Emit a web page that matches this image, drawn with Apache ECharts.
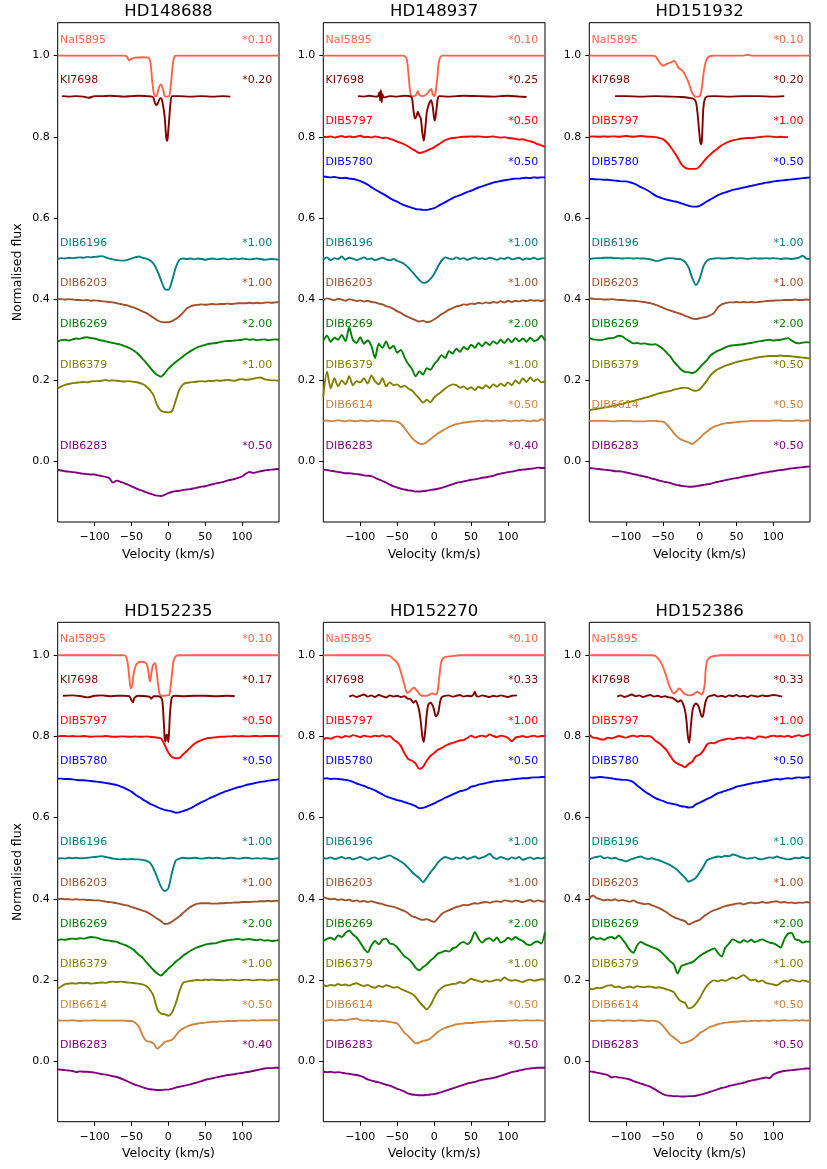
<!DOCTYPE html>
<html>
<head>
<meta charset="utf-8">
<script src="https://cdn.jsdelivr.net/npm/echarts@6/dist/echarts.min.js"></script>
<style>
html, body { margin: 0; padding: 0; background: #fff; }
#chart { width: 827px; height: 1169px; }
</style>
</head>
<body>
<div id="chart"></div>
<script>
const vGrid = [-150,-145,-140,-135,-130,-125,-120,-115,-110,-105,
  -100,-95,-90,-85,-80,-75,-70,-65,-60,-55,
  -50,-45,-40,-35,-30,-25,-20,-15,-10,-5,
  0,5,10,15,20,25,30,35,40,45,
  50,55,60,65,70,75,80,85,90,95,
  100,105,110,115,120,125,130,135,140,145,150];

const stars = ['HD148688', 'HD148937', 'HD151932', 'HD152235', 'HD152270', 'HD152386'];
const lineNames = ['NaI5895', 'KI7698', 'DIB5797', 'DIB5780', 'DIB6196', 'DIB6203', 'DIB6269', 'DIB6379', 'DIB6614', 'DIB6283'];
const lineOffsets = [1.0, 0.9, 0.8, 0.7, 0.5, 0.4, 0.3, 0.2, 0.1, 0.0];
const xTicks = [-100, -50, 0, 50, 100];
const yTicks = [0, 0.2, 0.4, 0.6, 0.8, 1.0];

const scaleLabels = [
  ['*0.10', '*0.20', null, null, '*1.00', '*1.00', '*2.00', '*1.00', null, '*0.50'],
  ['*0.10', '*0.25', '*0.50', '*0.50', '*1.00', '*1.00', '*2.00', '*1.00', '*0.50', '*0.40'],
  ['*0.10', '*0.20', '*1.00', '*0.50', '*1.00', '*1.00', '*2.00', '*0.50', '*0.50', '*0.50'],
  ['*0.10', '*0.17', '*0.50', '*0.50', '*1.00', '*1.00', '*2.00', '*1.00', '*0.50', '*0.40'],
  ['*0.10', '*0.33', '*1.00', '*0.50', '*1.00', '*1.00', '*2.00', '*1.00', '*0.50', '*0.50'],
  ['*0.10', '*0.33', '*1.00', '*0.50', '*1.00', '*1.00', '*2.00', '*1.00', '*0.50', '*0.50']
];

// ---- HD148688 ----
const hd148688_NaI = [[-150,1],[-60,1],[-56,0.997],[-53,0.988],[-50,0.992],[-45,0.995],[-35,0.996],[-28,0.995],[-26,0.993],[-24,0.98],[-22,0.94],[-20,0.91],[-18,0.9],[-16,0.9],[-13,0.92],[-10,0.929],[-7,0.915],[-5,0.9],[-2,0.899],[1,0.9],[3,0.92],[5,0.96],[7,0.99],[9,0.999],[12,1],[150,1]];
const hd148688_KI = [[-144,0.900],[-135,0.899],[-125,0.900],[-115,0.899],[-108,0.896],[-100,0.900],[-90,0.900],[-80,0.901],[-70,0.900],[-60,0.899],[-50,0.900],[-40,0.901],[-30,0.900],[-22,0.899],[-20,0.895],[-18,0.882],[-16,0.878],[-14,0.884],[-11,0.895],[-9,0.893],[-7,0.875],[-5,0.85],[-3,0.80],[-2,0.79],[-1,0.795],[1,0.84],[3,0.885],[5,0.9],[15,0.900],[30,0.899],[45,0.900],[60,0.899],[75,0.900],[84,0.899]];
const hd148688_6196 = [.499,.501,.500,.502,.501,.502,.503,.502,.504,.503, .504,.505,.506,.503,.500,.498,.496,.495,.495,.497, .500,.503,.505,.502,.500,.496,.487,.470,.447,.425, .423,.445,.478,.497,.500,.499,.500,.498,.500,.499, .497,.499,.500,.498,.499,.500,.498,.499,.500,.498, .500,.499,.498,.499,.500,.499,.497,.498,.499,.498, .497];
const hd148688_6203 = [.400,.400,.399,.400,.399,.398,.398,.397,.398,.396, .397,.396,.395,.394,.393,.392,.390,.388,.386,.384, .381,.378,.374,.370,.366,.360,.354,.348,.344,.343, .343,.346,.351,.358,.367,.377,.382,.385,.386,.387, .386,.387,.388,.387,.388,.388,.389,.388,.389,.390, .390,.390,.391,.390,.391,.390,.391,.392,.391,.392, .393];
const hd148688_6269 = [.296,.299,.300,.298,.301,.303,.302,.305,.306,.304, .303,.300,.298,.296,.294,.292,.290,.288,.285,.281, .277,.271,.263,.253,.243,.232,.221,.213,.209,.217, .229,.237,.245,.252,.259,.266,.272,.277,.282,.285, .287,.290,.291,.292,.294,.296,.297,.297,.298,.299, .300,.302,.300,.301,.299,.300,.301,.299,.300,.301, .300];
const hd148688_6379 = [.180,.185,.189,.191,.193,.194,.195,.196,.195,.197, .198,.198,.199,.201,.199,.200,.199,.198,.197,.198, .197,.196,.194,.191,.185,.176,.163,.138,.125,.122, .121,.124,.150,.177,.190,.194,.195,.196,.197,.198, .197,.199,.198,.200,.199,.200,.201,.200,.199,.202, .203,.201,.202,.204,.206,.207,.203,.201,.200,.200, .199];
const hd148688_6283 = [-.021,-.022,-.024,-.025,-.026,-.027,-.029,-.030,-.031,-.032, -.032,-.034,-.036,-.038,-.041,-.052,-.047,-.050,-.053,-.057, -.061,-.065,-.069,-.072,-.076,-.079,-.082,-.084,-.085,-.082, -.078,-.075,-.073,-.072,-.070,-.069,-.068,-.066,-.064,-.062, -.061,-.058,-.056,-.054,-.052,-.050,-.047,-.045,-.043,-.040, -.037,-.030,-.026,-.028,-.026,-.024,-.022,-.021,-.020,-.019, -.018];

// ---- HD148937 ----
const hd148937_NaI = [[-150,1],[-45,1],[-40,0.999],[-37,0.99],[-35,0.96],[-33,0.92],[-31,0.90],[-28,0.90],[-25,0.902],[-22,0.912],[-20,0.903],[-15,0.90],[-10,0.905],[-6,0.915],[-4,0.918],[-2,0.905],[0,0.90],[2,0.91],[4,0.94],[6,0.98],[8,0.995],[11,1],[150,1]];
const hd148937_KI = [[-103,0.900],[-95,0.899],[-88,0.901],[-80,0.899],[-76,0.900],[-74,0.91],[-73,0.89],[-72,0.915],[-71,0.885],[-70,0.905],[-68,0.897],[-60,0.900],[-50,0.899],[-40,0.901],[-33,0.900],[-30,0.895],[-28,0.865],[-26,0.845],[-24,0.85],[-22,0.862],[-20,0.852],[-18,0.845],[-16,0.81],[-14,0.79],[-12,0.82],[-10,0.86],[-8,0.875],[-6,0.885],[-4,0.89],[-2,0.875],[0,0.845],[1,0.84],[3,0.865],[5,0.895],[7,0.900],[20,0.899],[40,0.901],[60,0.900],[80,0.899],[100,0.901],[115,0.899],[125,0.898]];
const hd148937_5797 = [.800,.799,.801,.798,.800,.802,.799,.801,.799,.800, .803,.799,.800,.798,.801,.799,.797,.798,.795,.792, .788,.785,.781,.776,.770,.765,.760,.762,.766,.770, .774,.780,.786,.792,.795,.797,.798,.799,.800,.800, .801,.800,.801,.800,.799,.800,.801,.799,.798,.799, .797,.796,.795,.793,.794,.791,.789,.786,.782,.779, .775];
const hd148937_5780 = [.702,.701,.700,.701,.699,.698,.699,.697,.696,.694, .691,.687,.682,.676,.670,.665,.660,.655,.649,.644, .640,.635,.631,.628,.625,.622,.621,.620,.620,.622, .624,.629,.634,.639,.644,.649,.653,.656,.660,.664, .667,.671,.675,.678,.681,.684,.687,.689,.691,.693, .694,.696,.697,.697,.698,.699,.698,.700,.699,.700, .700];
const hd148937_6196 = [.498,.503,.496,.501,.499,.505,.497,.502,.500,.496, .499,.503,.498,.500,.496,.499,.502,.498,.496,.499, .494,.491,.486,.478,.468,.457,.447,.440,.442,.450, .462,.480,.495,.503,.500,.498,.503,.499,.501,.497, .500,.503,.499,.501,.498,.502,.500,.497,.501,.499, .503,.498,.500,.502,.497,.500,.499,.502,.498,.500, .501];
const hd148937_6203 = [.398,.402,.400,.397,.401,.399,.396,.400,.398,.395, .397,.394,.396,.393,.392,.389,.387,.383,.380,.376, .370,.366,.360,.356,.352,.348,.345,.347,.343,.345, .350,.356,.363,.368,.374,.378,.382,.384,.387,.386, .389,.388,.391,.389,.392,.390,.393,.391,.395,.392, .396,.393,.396,.394,.397,.395,.398,.396,.397,.395, .398];
const hd148937_6269 = [.298,.310,.295,.305,.300,.312,.296,.330,.300,.292, .306,.290,.298,.285,.255,.290,.280,.296,.278,.285, .268,.275,.256,.240,.228,.210,.222,.214,.230,.226, .240,.250,.262,.255,.272,.266,.278,.270,.282,.276, .288,.280,.292,.284,.294,.287,.296,.290,.300,.292, .302,.294,.304,.296,.303,.295,.305,.297,.300,.310, .298];
const hd148937_6379 = [.160,.222,.180,.205,.185,.200,.190,.210,.188,.198, .195,.205,.192,.212,.198,.190,.205,.185,.195,.188, .190,.183,.187,.180,.175,.165,.155,.145,.152,.146, .158,.165,.172,.180,.186,.190,.188,.182,.185,.178, .183,.176,.184,.180,.188,.181,.190,.184,.192,.186, .195,.188,.200,.192,.205,.196,.207,.198,.203,.195, .198];
const hd148937_6614 = [.100,.101,.099,.100,.102,.100,.099,.101,.100,.099, .101,.100,.099,.101,.100,.099,.101,.100,.100,.099, .098,.093,.082,.070,.058,.050,.044,.043,.048,.055, .062,.069,.075,.080,.085,.089,.092,.094,.096,.097, .098,.099,.100,.099,.101,.100,.099,.101,.100,.102, .100,.099,.101,.100,.102,.100,.099,.101,.100,.104, .101];
const hd148937_6283 = [-.020,-.021,-.023,-.024,-.026,-.027,-.029,-.029,-.030,-.031, -.032,-.034,-.035,-.036,-.040,-.044,-.048,-.052,-.057,-.061, -.064,-.067,-.069,-.071,-.072,-.074,-.074,-.073,-.072,-.070, -.069,-.067,-.065,-.062,-.059,-.056,-.053,-.051,-.049,-.047, -.045,-.044,-.042,-.040,-.039,-.037,-.035,-.032,-.030,-.028, -.026,-.025,-.023,-.021,-.020,-.019,-.018,-.017,-.015,-.016, -.016];

// ---- HD151932 ----
const hd151932_NaI = [[-150,1],[-65,1],[-60,0.998],[-57,0.99],[-54,0.982],[-50,0.975],[-47,0.977],[-43,0.981],[-38,0.984],[-35,0.987],[-32,0.982],[-29,0.97],[-26,0.966],[-23,0.962],[-20,0.953],[-17,0.942],[-14,0.928],[-11,0.911],[-8,0.902],[-5,0.899],[-2,0.899],[0,0.90],[2,0.91],[4,0.935],[6,0.965],[8,0.983],[11,0.995],[15,0.999],[20,1],[60,1],[65,1.002],[70,1],[150,1]];
const hd151932_KI = [[-115,0.900],[-100,0.900],[-80,0.899],[-60,0.900],[-40,0.899],[-25,0.898],[-15,0.896],[-8,0.893],[-5,0.885],[-3,0.86],[-1,0.82],[1,0.785],[2,0.782],[3,0.79],[4,0.83],[5,0.87],[7,0.893],[10,0.899],[20,0.900],[40,0.899],[60,0.900],[80,0.900],[100,0.899],[115,0.900]];
const hd151932_5797 = [.800,.801,.800,.800,.801,.800,.801,.801,.800,.801, .802,.801,.800,.801,.802,.801,.800,.800,.799,.797, .794,.787,.776,.763,.749,.733,.724,.721,.721,.721, .727,.738,.749,.757,.765,.772,.779,.784,.788,.791, .793,.795,.796,.797,.797,.798,.799,.800,.801,.801, .800,.799,.800,.799,.799,null,null,null,null,null, null];
const hd151932_5780 = [.696,.696,.695,.695,.694,.694,.693,.692,.691,.690, .690,.688,.685,.681,.676,.672,.667,.661,.655,.651, .648,.645,.643,.641,.639,.636,.633,.630,.628,.628, .630,.635,.641,.646,.651,.656,.660,.663,.666,.669, .671,.673,.675,.677,.679,.681,.683,.685,.687,.688, .690,.691,.692,.693,.694,.695,.696,.697,.698,.699, .700];
const hd151932_6196 = [.499,.500,.501,.501,.502,.502,.502,.501,.501,.500, .501,.501,.500,.501,.500,.500,.499,.497,.494,.495, .498,.500,.501,.500,.499,.498,.492,.478,.452,.435, .450,.480,.495,.499,.500,.501,.500,.500,.501,.502, .500,.501,.500,.499,.500,.501,.500,.500,.501,.500, .501,.500,.499,.500,.500,.499,.500,.502,.507,.500, .499];
const hd151932_6203 = [.402,.401,.400,.400,.399,.399,.400,.399,.398,.398, .397,.396,.396,.395,.394,.393,.391,.389,.386,.383, .379,.375,.372,.369,.366,.363,.359,.356,.352,.351, .353,.355,.357,.361,.367,.380,.387,.390,.392,.392, .393,.392,.393,.392,.393,.392,.393,.394,.395,.396, .396,.397,.397,.398,.398,.398,.399,.398,.398,.399, .398];
const hd151932_6269 = [.304,.301,.300,.299,.301,.303,.304,.306,.310,.308, .301,.296,.291,.292,.290,.291,.289,.288,.289,.284, .278,.268,.259,.246,.236,.226,.221,.220,.218,.222, .231,.241,.250,.262,.268,.273,.277,.281,.285,.286, .287,.288,.289,.291,.292,.294,.296,.297,.299,.300, .298,.299,.300,.302,.304,.298,.293,.291,.293,.294, .293];
const hd151932_6379 = [.127,.128,.130,.131,.133,.134,.136,.138,.140,.142, .145,.147,.149,.152,.154,.157,.159,.162,.165,.168, .170,.172,.174,.177,.179,.181,.182,.180,.176,.174, .178,.188,.200,.213,.222,.228,.232,.236,.239,.242, .245,.247,.249,.251,.253,.255,.257,.258,.259,.260, .260,.260,.261,.260,.260,.259,.258,.257,.256,.255, .254];
const hd151932_6614 = [.100,.100,.100,.100,.100,.100,.099,.099,.100,.100, .100,.100,.099,.099,.099,.099,.100,.100,.100,.099, .098,.092,.082,.070,.060,.054,.050,.047,.043,.050, .057,.067,.074,.081,.086,.089,.092,.094,.095,.096, .097,.098,.099,.099,.100,.100,.100,.100,.100,.100, .101,.101,.101,.100,.100,.100,.101,.101,.100,.101, .101];
const hd151932_6283 = [-.016,-.017,-.018,-.019,-.020,-.021,-.022,-.024,-.024,-.025, -.027,-.029,-.031,-.033,-.035,-.037,-.039,-.042,-.044,-.047, -.049,-.051,-.053,-.056,-.058,-.060,-.061,-.062,-.062,-.061, -.059,-.058,-.056,-.055,-.052,-.050,-.048,-.046,-.044,-.042, -.041,-.039,-.037,-.035,-.034,-.032,-.030,-.028,-.027,-.025, -.024,-.022,-.021,-.020,-.018,-.017,-.016,-.015,-.014,-.013, -.012];

// ---- HD152235 ----
const hd152235_NaI = [[-150,1],[-60,1],[-57,0.995],[-55,0.98],[-53,0.947],[-51,0.918],[-49,0.925],[-47,0.955],[-44,0.975],[-41,0.982],[-37,0.984],[-33,0.983],[-30,0.98],[-28,0.97],[-26,0.945],[-25,0.935],[-23,0.955],[-21,0.975],[-18,0.981],[-16,0.96],[-14,0.93],[-12,0.905],[-9,0.90],[-5,0.90],[-2,0.901],[1,0.902],[3,0.92],[5,0.955],[7,0.985],[10,0.997],[14,1],[150,1]];
const hd152235_KI = [[-143,0.900],[-130,0.901],[-118,0.899],[-110,0.896],[-100,0.900],[-90,0.901],[-80,0.899],[-70,0.900],[-60,0.900],[-53,0.899],[-50,0.889],[-48,0.884],[-46,0.895],[-40,0.900],[-30,0.899],[-25,0.897],[-23,0.893],[-20,0.899],[-14,0.899],[-10,0.896],[-8,0.885],[-6,0.83],[-5,0.795],[-4,0.787],[-3,0.80],[-2,0.805],[-1,0.795],[0,0.786],[1,0.81],[2,0.85],[4,0.89],[6,0.899],[10,0.900],[20,0.899],[35,0.900],[50,0.900],[65,0.899],[80,0.900],[90,0.899]];
const hd152235_5797 = [.800,.801,.801,.800,.801,.800,.800,.801,.800,.799, .800,.800,.800,.801,.800,.799,.799,.800,.800,.799, .799,.800,.799,.799,.800,.799,.798,.797,.795,.779, .760,.749,.746,.747,.756,.764,.773,.781,.787,.791, .794,.796,.797,.798,.799,.799,.800,.800,.801,.800, .801,.800,.800,.801,.801,.800,.801,.801,.801,.801, .801];
const hd152235_5780 = [.696,.696,.695,.695,.694,.693,.692,.692,.691,.690, .689,.688,.687,.685,.684,.682,.680,.677,.673,.669, .664,.657,.651,.645,.640,.634,.630,.626,.622,.619, .617,.615,.612,.613,.616,.619,.623,.628,.633,.638, .642,.647,.651,.655,.659,.663,.666,.669,.672,.675, .677,.680,.682,.684,.686,.688,.689,.691,.692,.693, .694];
const hd152235_6196 = [.499,.500,.499,.501,.500,.501,.500,.500,.501,.502, .503,.504,.505,.503,.501,.499,.498,.497,.498,.497, .498,.497,.497,.496,.494,.489,.474,.452,.430,.419, .426,.465,.494,.499,.501,.500,.500,.501,.500,.499, .500,.501,.500,.501,.500,.499,.500,.501,.500,.499, .500,.501,.500,.499,.500,.499,.500,.499,.498,.499, .500];
const hd152235_6203 = [.399,.400,.399,.399,.398,.399,.398,.398,.397,.397, .396,.396,.395,.393,.392,.391,.389,.387,.385,.383, .380,.377,.374,.371,.368,.363,.357,.351,.345,.338, .339,.344,.350,.357,.365,.373,.380,.385,.388,.389, .389,.389,.388,.388,.389,.389,.390,.390,.391,.391, .392,.392,.392,.393,.393,.394,.394,.395,.394,.395, .395];
const hd152235_6269 = [.298,.300,.299,.301,.302,.301,.303,.302,.304,.306, .305,.303,.300,.298,.297,.295,.294,.290,.287,.283, .278,.271,.262,.255,.244,.234,.224,.216,.211,.219, .228,.236,.245,.252,.260,.266,.272,.277,.281,.284, .287,.289,.290,.291,.294,.296,.298,.299,.300,.301, .299,.300,.301,.299,.298,.300,.297,.298,.296,.297, .298];
const hd152235_6379 = [.179,.184,.190,.191,.192,.191,.193,.192,.193,.191, .192,.193,.194,.193,.195,.196,.195,.196,.195,.194, .193,.192,.191,.189,.185,.176,.160,.128,.117,.116, .112,.120,.142,.172,.193,.196,.198,.199,.200,.199, .201,.200,.201,.200,.200,.199,.200,.201,.200,.199, .200,.201,.200,.199,.200,.201,.200,.199,.200,.201, .200];
const hd152235_6614 = [.101,.100,.100,.100,.101,.100,.099,.100,.100,.100, .101,.100,.100,.100,.100,.100,.100,.100,.100,.099, .099,.095,.085,.064,.050,.048,.044,.031,.038,.047, .050,.053,.063,.074,.081,.085,.089,.091,.093,.094, .095,.096,.097,.097,.098,.098,.099,.099,.099,.100, .100,.100,.100,.101,.100,.101,.101,.101,.101,.101, .101];
const hd152235_6283 = [-.020,-.021,-.022,-.023,-.024,-.027,-.025,-.026,-.026,-.027, -.028,-.030,-.032,-.033,-.035,-.037,-.039,-.042,-.046,-.050, -.054,-.058,-.061,-.064,-.067,-.069,-.070,-.071,-.071,-.070, -.070,-.068,-.065,-.063,-.061,-.059,-.057,-.054,-.052,-.049, -.046,-.044,-.042,-.040,-.038,-.036,-.034,-.033,-.032,-.030, -.029,-.027,-.026,-.024,-.022,-.020,-.018,-.017,-.017,-.016, -.016];

// ---- HD152270 ----
const hd152270_NaI = [[-150,1],[-65,1],[-60,0.998],[-55,0.99],[-51,0.984],[-47,0.97],[-44,0.951],[-41,0.932],[-38,0.912],[-36,0.907],[-33,0.911],[-30,0.917],[-27,0.92],[-24,0.914],[-21,0.907],[-18,0.901],[-14,0.90],[-10,0.90],[-6,0.903],[-3,0.906],[0,0.904],[3,0.903],[5,0.915],[7,0.947],[9,0.978],[11,0.99],[15,0.995],[25,0.998],[35,1],[150,1]];
const hd152270_KI = [[-115,0.898],[-110,0.901],[-105,0.897],[-100,0.900],[-95,0.903],[-90,0.898],[-85,0.901],[-80,0.897],[-75,0.902],[-70,0.899],[-65,0.896],[-60,0.901],[-55,0.898],[-50,0.900],[-45,0.897],[-40,0.899],[-36,0.893],[-32,0.892],[-28,0.883],[-25,0.888],[-22,0.876],[-20,0.86],[-18,0.835],[-16,0.80],[-14,0.786],[-12,0.815],[-10,0.855],[-8,0.878],[-5,0.883],[-2,0.876],[0,0.865],[2,0.85],[4,0.852],[6,0.862],[8,0.885],[10,0.896],[13,0.899],[20,0.901],[25,0.898],[30,0.900],[35,0.902],[40,0.898],[45,0.900],[50,0.899],[53,0.903],[55,0.91],[57,0.900],[60,0.898],[65,0.901],[70,0.899],[75,0.897],[80,0.900],[85,0.898],[90,0.901],[95,0.899],[100,0.897],[105,0.900],[112,0.901]];
const hd152270_5797 = [.793,.796,.794,.798,.800,.797,.801,.799,.803,.801, .798,.802,.800,.799,.802,.800,.803,.799,.801,.792, .786,.776,.758,.744,.740,.733,.720,.725,.740,.752, .759,.767,.771,.777,.781,.784,.787,.790,.791,.796, .802,.797,.800,.802,.799,.805,.801,.798,.802,.800, .796,.788,.797,.799,.801,.798,.800,.802,.799,.801, .801];
const hd152270_5780 = [.696,.697,.695,.696,.695,.694,.693,.691,.688,.684, .681,.678,.674,.671,.667,.662,.657,.652,.649,.646, .643,.641,.638,.635,.632,.628,.623,.624,.627,.631, .635,.640,.644,.649,.653,.657,.661,.665,.667,.670, .676,.678,.681,.683,.685,.687,.689,.690,.691,.692, .693,.694,.695,.696,.697,.697,.698,.699,.699,.700, .700];
const hd152270_6196 = [.501,.499,.502,.498,.500,.503,.499,.501,.497,.500, .503,.499,.496,.500,.502,.498,.501,.504,.507,.502, .497,.492,.485,.476,.466,.458,.451,.441,.452,.465, .476,.489,.498,.503,.500,.497,.502,.499,.503,.498, .501,.504,.499,.502,.505,.511,.502,.498,.503,.500, .497,.502,.499,.503,.496,.499,.502,.498,.501,.499, .502];
const hd152270_6203 = [.404,.401,.399,.400,.397,.399,.396,.398,.394,.396, .393,.395,.392,.394,.391,.389,.387,.384,.382,.380, .377,.373,.370,.364,.357,.354,.350,.348,.350,.346, .343,.352,.362,.368,.372,.376,.380,.382,.385,.384, .387,.389,.388,.391,.392,.390,.393,.394,.392,.396, .395,.393,.396,.394,.392,.395,.397,.393,.396,.394, .393];
const hd152270_6269 = [.296,.301,.304,.299,.310,.306,.316,.322,.312,.305, .292,.278,.268,.285,.296,.288,.299,.302,.290,.288, .280,.269,.258,.252,.243,.230,.224,.232,.238,.248, .255,.265,.268,.272,.270,.278,.281,.290,.294,.288, .297,.318,.302,.292,.300,.303,.296,.305,.292,.296, .304,.299,.306,.300,.296,.288,.286,.292,.295,.290, .318];
const hd152270_6379 = [.187,.185,.188,.186,.190,.187,.189,.186,.190,.192, .188,.185,.188,.183,.181,.186,.183,.187,.185,.181, .183,.178,.174,.170,.166,.158,.146,.136,.128,.138, .156,.172,.180,.186,.188,.190,.191,.195,.192,.197, .203,.200,.198,.195,.199,.196,.198,.201,.198,.206, .201,.198,.200,.197,.195,.199,.201,.198,.200,.202, .201];
const hd152270_6614 = [.101,.100,.102,.100,.101,.102,.100,.103,.104,.105, .101,.100,.101,.099,.100,.098,.099,.098,.097,.095, .093,.082,.070,.062,.052,.044,.046,.050,.052,.056, .064,.072,.078,.082,.085,.088,.091,.092,.093,.094, .094,.095,.096,.097,.097,.098,.098,.099,.099,.099, .100,.100,.101,.100,.100,.101,.100,.100,.101,.100, .100];
const hd152270_6283 = [-.026,-.027,-.026,-.028,-.027,-.028,-.030,-.031,-.033,-.034, -.036,-.040,-.045,-.048,-.050,-.052,-.055,-.058,-.060,-.064, -.068,-.071,-.075,-.080,-.082,-.083,-.084,-.084,-.083,-.082, -.081,-.079,-.076,-.073,-.070,-.067,-.064,-.061,-.058,-.055, -.053,-.051,-.048,-.046,-.044,-.043,-.041,-.039,-.036,-.033, -.030,-.027,-.025,-.023,-.021,-.019,-.018,-.017,-.016,-.016, -.016];

// ---- HD152386 ----
const hd152386_NaI = [[-150,1],[-65,1],[-60,0.998],[-55,0.988],[-50,0.972],[-46,0.952],[-42,0.928],[-38,0.912],[-35,0.906],[-32,0.91],[-28,0.918],[-25,0.914],[-22,0.907],[-18,0.903],[-14,0.901],[-10,0.902],[-6,0.907],[-3,0.91],[0,0.906],[3,0.903],[5,0.91],[7,0.93],[8,0.96],[10,0.985],[14,0.995],[20,0.998],[30,1],[150,1]];
const hd152386_KI = [[-112,0.898],[-107,0.901],[-102,0.897],[-97,0.900],[-92,0.903],[-87,0.899],[-82,0.901],[-77,0.897],[-72,0.900],[-67,0.902],[-62,0.898],[-57,0.900],[-52,0.897],[-47,0.899],[-42,0.896],[-37,0.895],[-33,0.890],[-29,0.885],[-26,0.889],[-23,0.882],[-20,0.865],[-18,0.84],[-16,0.80],[-14,0.785],[-12,0.825],[-10,0.86],[-8,0.875],[-5,0.881],[-2,0.876],[0,0.865],[2,0.852],[4,0.848],[6,0.865],[8,0.885],[11,0.897],[15,0.900],[20,0.902],[25,0.898],[30,0.900],[35,0.897],[40,0.901],[45,0.899],[50,0.902],[55,0.898],[60,0.900],[65,0.897],[70,0.901],[75,0.899],[80,0.898],[85,0.901],[90,0.899],[95,0.900],[100,0.902],[105,0.901],[112,0.898]];
const hd152386_5797 = [.804,.797,.796,.793,.792,.797,.795,.798,.801,.799, .797,.800,.802,.799,.802,.800,.801,.798,.789,.783, .775,.766,.752,.739,.733,.729,.724,.732,.738,.751, .755,.765,.780,.784,.783,.788,.791,.793,.795,.793, .796,.797,.795,.798,.796,.794,.800,.799,.797,.800, .802,.800,.801,.799,.802,.798,.801,.803,.800,.803, .805];
const hd152386_5780 = [.699,.698,.699,.700,.699,.698,.697,.695,.694,.693, .693,.691,.687,.679,.672,.665,.659,.653,.648,.644, .641,.637,.635,.633,.631,.628,.627,.625,.626,.633, .637,.641,.646,.650,.655,.660,.663,.666,.669,.672, .676,.678,.680,.682,.684,.686,.687,.689,.690,.692, .694,.695,.694,.696,.697,.696,.698,.699,.698,.699, .700];
const hd152386_6196 = [.497,.501,.503,.505,.500,.502,.499,.501,.497,.495, .492,.496,.499,.502,.504,.500,.498,.500,.497,.495, .491,.487,.483,.477,.470,.461,.452,.442,.446,.452, .465,.479,.495,.499,.502,.504,.503,.506,.505,.509, .507,.503,.501,.499,.500,.502,.498,.497,.500,.502, .501,.504,.501,.499,.497,.498,.501,.500,.503,.500, .501];
const hd152386_6203 = [.401,.408,.402,.399,.396,.398,.396,.399,.395,.397, .395,.393,.396,.391,.389,.387,.388,.384,.381,.377, .372,.367,.360,.355,.351,.348,.345,.337,.341,.345, .348,.356,.362,.368,.372,.375,.379,.382,.384,.386, .388,.389,.386,.389,.391,.389,.390,.392,.390,.391, .393,.394,.391,.392,.390,.391,.389,.391,.390,.392, .390];
const hd152386_6269 = [.298,.306,.301,.303,.299,.304,.306,.302,.310,.300, .288,.274,.267,.285,.294,.289,.285,.281,.278,.273, .265,.255,.246,.238,.216,.234,.238,.241,.244,.251, .259,.265,.270,.274,.278,.266,.258,.280,.290,.300, .296,.292,.298,.294,.299,.293,.297,.300,.296,.292, .290,.286,.280,.300,.314,.316,.300,.298,.292,.295, .294];
const hd152386_6379 = [.179,.177,.181,.180,.183,.186,.187,.182,.184,.180, .182,.184,.181,.185,.183,.182,.184,.183,.181,.182, .180,.177,.174,.170,.156,.147,.144,.130,.133,.142, .155,.172,.186,.195,.199,.197,.200,.198,.202,.206, .203,.208,.212,.205,.199,.201,.196,.199,.193,.191, .189,.187,.193,.198,.196,.201,.198,.196,.199,.197, .195];
const hd152386_6614 = [.100,.099,.100,.100,.099,.101,.100,.100,.101,.099, .100,.100,.099,.100,.101,.100,.099,.100,.099,.096, .087,.076,.065,.058,.051,.044,.046,.049,.053,.060, .069,.074,.080,.085,.088,.091,.093,.095,.096,.097, .097,.098,.099,.098,.099,.100,.099,.100,.100,.099, .101,.100,.100,.101,.100,.100,.101,.100,.101,.100, .101];
const hd152386_6283 = [-.025,-.026,-.028,-.030,-.032,-.034,-.040,-.038,-.040,-.041, -.043,-.045,-.049,-.052,-.055,-.058,-.061,-.065,-.070,-.076, -.081,-.084,-.085,-.086,-.086,-.087,-.087,-.086,-.086,-.085, -.083,-.081,-.078,-.075,-.072,-.069,-.066,-.064,-.061,-.059, -.057,-.055,-.053,-.050,-.048,-.046,-.044,-.042,-.040,-.042, -.033,-.029,-.026,-.024,-.023,-.022,-.021,-.020,-.019,-.018, -.018];

// one row per star, in lineNames order (null = line not shown for that star)
const spectra = [
  [hd148688_NaI, hd148688_KI, null, null, hd148688_6196, hd148688_6203, hd148688_6269, hd148688_6379, null, hd148688_6283],
  [hd148937_NaI, hd148937_KI, hd148937_5797, hd148937_5780, hd148937_6196, hd148937_6203, hd148937_6269, hd148937_6379, hd148937_6614, hd148937_6283],
  [hd151932_NaI, hd151932_KI, hd151932_5797, hd151932_5780, hd151932_6196, hd151932_6203, hd151932_6269, hd151932_6379, hd151932_6614, hd151932_6283],
  [hd152235_NaI, hd152235_KI, hd152235_5797, hd152235_5780, hd152235_6196, hd152235_6203, hd152235_6269, hd152235_6379, hd152235_6614, hd152235_6283],
  [hd152270_NaI, hd152270_KI, hd152270_5797, hd152270_5780, hd152270_6196, hd152270_6203, hd152270_6269, hd152270_6379, hd152270_6614, hd152270_6283],
  [hd152386_NaI, hd152386_KI, hd152386_5797, hd152386_5780, hd152386_6196, hd152386_6203, hd152386_6269, hd152386_6379, hd152386_6614, hd152386_6283]
];

const lineColors = ['#ff6347', '#800000', '#ff0000', '#0000ff', '#008080', '#a0522d', '#008000', '#808000', '#cd853f', '#800080'];
const FONT = 'DejaVu Sans';
// panel boxes [left, top, width, height] in px
const boxes = [
  [57.7, 22.7, 221.3, 499.3], [323.3, 22.7, 221.7, 499.3], [589.3, 22.7, 220.7, 499.3],
  [57.7, 622.3, 221.3, 499.4], [323.3, 622.3, 221.7, 499.4], [589.3, 622.3, 220.7, 499.4]
];

function toPoints(d) {
  if (Array.isArray(d[0])) return d;
  return vGrid.map((v, i) => [v, d[i] == null ? '-' : d[i]]);
}

let grids = [], xAxes = [], yAxes = [], titles = [], series = [];
stars.forEach(function(star, p) {
  const b = boxes[p];
  grids.push({left: b[0], top: b[1], width: b[2], height: b[3], show: true,
    borderColor: '#000', borderWidth: 1, backgroundColor: 'transparent'});
  titles.push({text: star, left: b[0] + b[2] / 2, top: b[1] - 19.5, textAlign: 'center', padding: 0,
    textStyle: {fontFamily: FONT, fontSize: 16.5, fontWeight: 'normal', color: '#000'}});
  xAxes.push({
    type: 'value', gridIndex: p, min: -150, max: 150,
    name: 'Velocity (km/s)', nameLocation: 'middle', nameGap: 26,
    nameTextStyle: {fontFamily: FONT, fontSize: 12.5, color: '#000'},
    axisLine: {show: false, onZero: false},
    splitLine: {show: false},
    axisTick: {show: true, customValues: xTicks, length: 4, lineStyle: {color: '#000', width: 1}},
    axisLabel: {customValues: xTicks, margin: 10, fontFamily: FONT, fontSize: 11, color: '#000',
      formatter: function(v) { return v < 0 ? '\u2212' + (-v) : String(v); }}
  });
  yAxes.push({
    type: 'value', gridIndex: p, min: -0.149, max: 1.081,
    name: p % 3 === 0 ? 'Normalised flux' : '', nameLocation: 'middle', nameGap: 33,
    nameTextStyle: {fontFamily: FONT, fontSize: 12.5, color: '#000'},
    axisLine: {show: false, onZero: false},
    splitLine: {show: false},
    axisTick: {show: true, customValues: yTicks, length: 4, lineStyle: {color: '#000', width: 1}},
    axisLabel: {customValues: yTicks, margin: 8, fontFamily: FONT, fontSize: 11, color: '#000',
      formatter: function(v) { return v.toFixed(1); }}
  });
  spectra[p].forEach(function(d, j) {
    if (!d) return;
    const c = lineColors[j];
    const ly = lineOffsets[j] + 0.0385;
    series.push({
      type: 'line', xAxisIndex: p, yAxisIndex: p,
      data: toPoints(d), showSymbol: false, symbol: 'none', smooth: 0.25,
      lineStyle: {color: c, width: 1.9}, itemStyle: {color: c},
      silent: true, animation: false,
      markPoint: {
        silent: true, symbol: 'circle', symbolSize: 0, animation: false,
        label: {show: true, color: c, fontFamily: FONT, fontSize: 11},
        data: [
          {coord: [-147, ly], label: {position: 'right', distance: 0, formatter: lineNames[j]}},
          {coord: [141, ly], label: {position: 'left', distance: 0, formatter: scaleLabels[p][j]}}
        ]
      }
    });
  });
});

const chart = echarts.init(document.getElementById('chart'), null, {renderer: 'canvas'});
chart.setOption({
  animation: false,
  backgroundColor: '#fff',
  title: titles,
  grid: grids,
  xAxis: xAxes,
  yAxis: yAxes,
  series: series
});
</script>
</body>
</html>
